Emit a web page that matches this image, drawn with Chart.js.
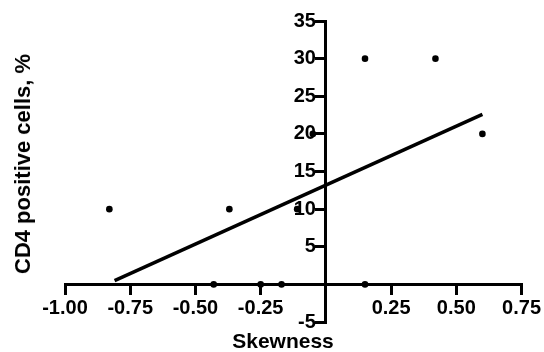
<!DOCTYPE html>
<html>
<head>
<meta charset="utf-8">
<script src="https://cdn.jsdelivr.net/npm/chart.js@4.4.1/dist/chart.umd.min.js"></script>
<style>
  html, body { margin: 0; padding: 0; background: #fff; }
  #wrap { width: 544px; height: 352px; position: relative; }
  .axis-title {
    position: absolute;
    font-family: 'Liberation Sans', Arial, Helvetica, sans-serif;
    font-weight: bold;
    color: #000;
    white-space: nowrap;
    line-height: 1;
    transform: translate(-50%, -50%);
  }
  #xTitle { left: 283px; top: 340px; font-size: 21px; }
  #yTitle { left: 23px; top: 164px; font-size: 22px; transform: translate(-50%, -50%) rotate(-90deg); }
</style>
</head>
<body>
<div id="wrap">
  <canvas id="cd4Chart" width="544" height="352"></canvas>
  <div class="axis-title" id="xTitle"></div>
  <div class="axis-title" id="yTitle"></div>
</div>
<script>
// data
const skewness = [-0.83, -0.37, -0.11, -0.05, 0.15, 0.42, 0.60, -0.43, -0.25, -0.17, 0.15];
const cd4Pct   = [10, 10, 10, 20, 30, 30, 20, 0, 0, 0, 0];

// regression line ends, as drawn
const fitX = [-0.81, 0.60];
const fitY = [0.5, 22.6];

const xTicks = [-1.00, -0.75, -0.50, -0.25, 0.25, 0.50, 0.75];
const yTicks = [-5, 5, 10, 15, 20, 25, 30, 35];

const xTitle = "Skewness";
const yTitle = "CD4 positive cells, %";

const FONT = "'Liberation Sans', Arial, Helvetica, sans-serif";

document.getElementById("xTitle").textContent = xTitle;
document.getElementById("yTitle").textContent = yTitle;

const points = skewness.map((x, i) => ({ x: x, y: cd4Pct[i] }));
const fitLine = fitX.map((x, i) => ({ x: x, y: fitY[i] }));

function axisGrid() {
  return { display: true, drawOnChartArea: false, drawTicks: true, tickLength: 9, color: "#000", lineWidth: 3, tickColor: "#000", tickWidth: 3 };
}

const config = {
  type: "scatter",
  data: {
    datasets: [
      { label: "fit", data: fitLine, showLine: true, borderColor: "#000", borderWidth: 3.5, pointRadius: 0, clip: false },
      { label: "CD4", data: points, backgroundColor: "#000", pointRadius: 3.3, borderWidth: 0, clip: false }
    ]
  },
  options: {
    responsive: false,
    animation: false,
    layout: { padding: { left: 65, right: 22, top: 21, bottom: 30 } },
    plugins: { legend: { display: false }, tooltip: { enabled: false } },
    scales: {
      // both axes sit on the zero lines
      x: {
        type: "linear", position: { y: 0 }, min: -1, max: 0.75,
        afterBuildTicks: (s) => { s.ticks = xTicks.map(v => ({ value: v })); },
        ticks: { color: "#000", font: { family: FONT, size: 20, weight: "bold" }, padding: 3, maxRotation: 0,
                 callback: (v) => Number(v).toFixed(2) },
        grid: axisGrid(),
        border: { display: true, color: "#000", width: 3 }
      },
      y: {
        type: "linear", position: { x: 0 }, min: -5, max: 35,
        afterBuildTicks: (s) => { s.ticks = yTicks.map(v => ({ value: v })); },
        // labels sit right-aligned on the axis here, so pad them past the tick marks
        ticks: { color: "#000", font: { family: FONT, size: 20, weight: "bold" }, padding: 1,
                 callback: (v) => String(v) + "\u2002" },
        grid: axisGrid(),
        border: { display: true, color: "#000", width: 3 }
      }
    }
  }
};

const cd4Chart = new Chart(document.getElementById("cd4Chart"), config);
</script>
</body>
</html>
